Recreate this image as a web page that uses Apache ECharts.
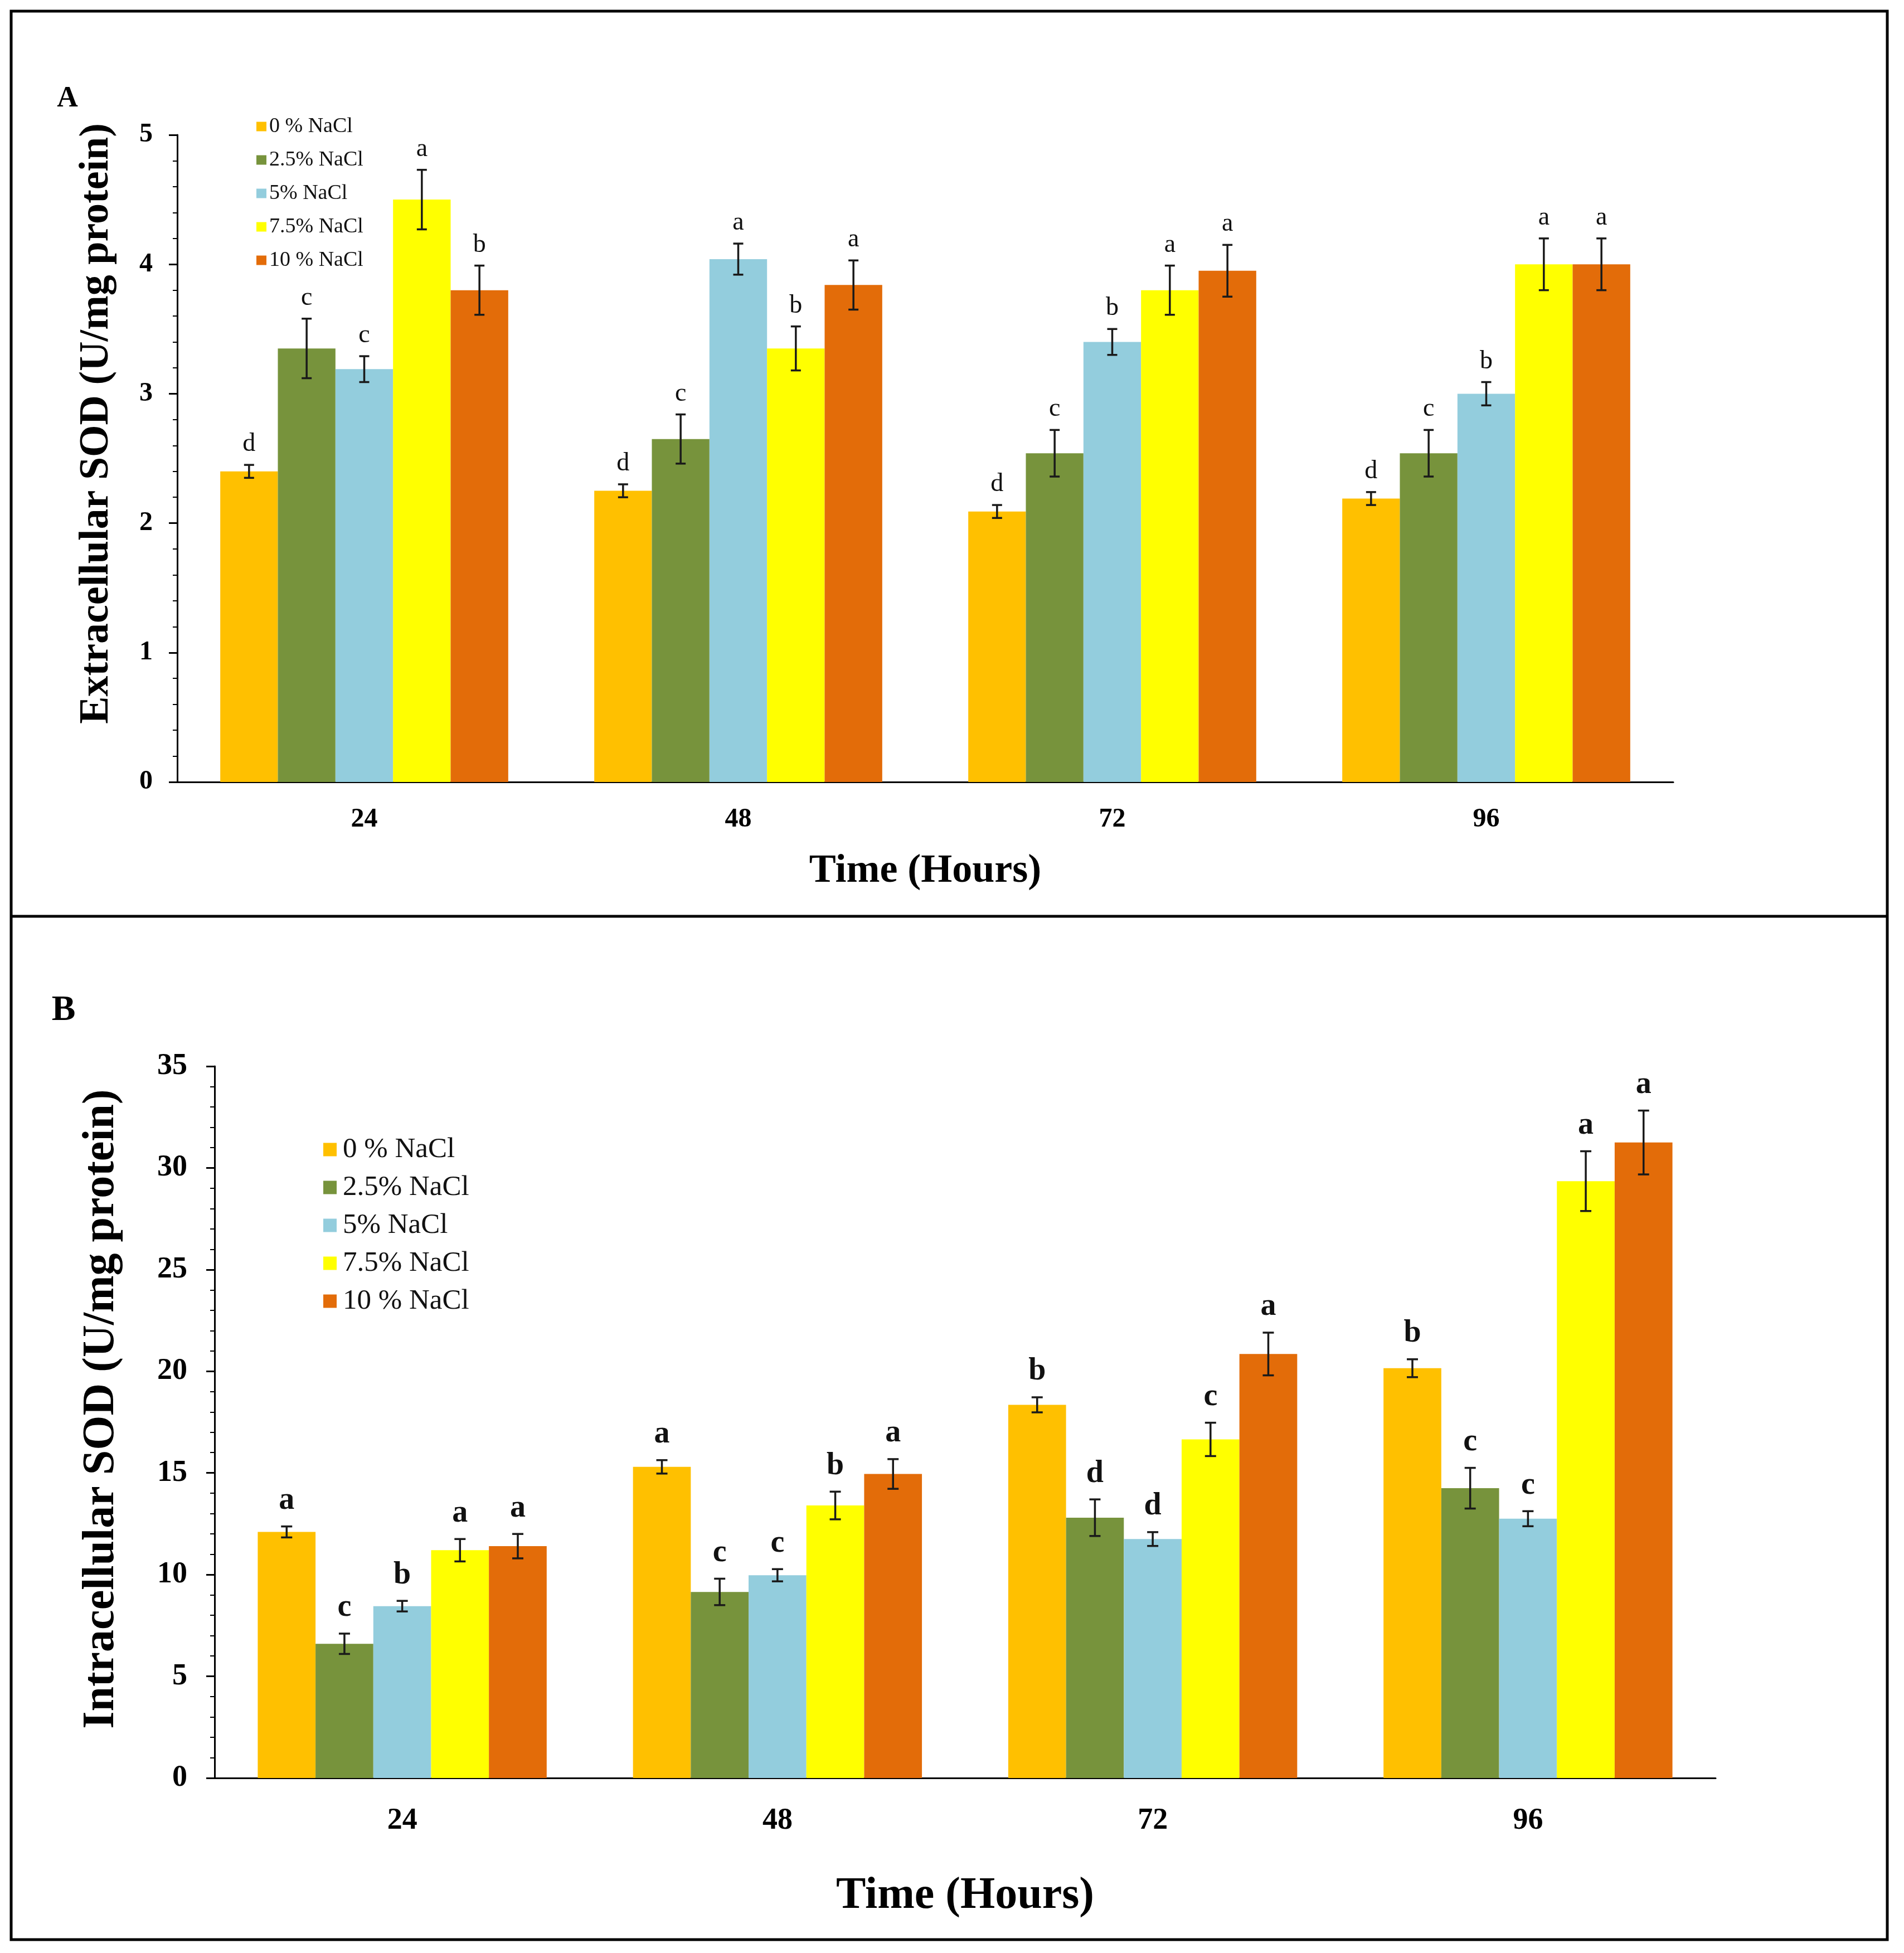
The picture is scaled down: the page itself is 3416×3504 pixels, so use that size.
<!DOCTYPE html>
<html>
<head>
<meta charset="utf-8">
<script src="https://cdn.jsdelivr.net/npm/echarts@6/dist/echarts.min.js"></script>
<style>
html,body{margin:0;padding:0;background:#fff;}
#chart{width:3416px;height:3504px;}
</style>
</head>
<body>
<div id="chart"></div>
<script>
// ---- Data ----
const categories = ['24', '48', '72', '96'];
const seriesNames = ['0 % NaCl', '2.5% NaCl', '5% NaCl', '7.5% NaCl', '10 % NaCl'];
const colors = ['#FFC000', '#77933C', '#93CDDD', '#FFFF00', '#E36C09'];

// Panel A: Extracellular SOD (per series, over 24/48/72/96 h)
const extValues = [
  [2.40, 2.25, 2.09, 2.19],
  [3.35, 2.65, 2.54, 2.54],
  [3.19, 4.04, 3.40, 3.00],
  [4.50, 3.35, 3.80, 4.00],
  [3.80, 3.84, 3.95, 4.00]
];
const extErrors = [
  [0.05, 0.05, 0.05, 0.05],
  [0.23, 0.19, 0.18, 0.18],
  [0.10, 0.12, 0.10, 0.09],
  [0.23, 0.17, 0.19, 0.20],
  [0.19, 0.19, 0.20, 0.20]
];
const extLetters = [
  ['d', 'd', 'd', 'd'],
  ['c', 'c', 'c', 'c'],
  ['c', 'a', 'b', 'b'],
  ['a', 'b', 'a', 'a'],
  ['b', 'a', 'a', 'a']
];

// Panel B: Intracellular SOD
const intValues = [
  [12.10, 15.30, 18.35, 20.15],
  [6.60, 9.15, 12.80, 14.25],
  [8.45, 9.97, 11.75, 12.75],
  [11.20, 13.40, 16.65, 29.35],
  [11.40, 14.95, 20.85, 31.25]
];
const intErrors = [
  [0.27, 0.33, 0.37, 0.44],
  [0.50, 0.65, 0.90, 1.00],
  [0.26, 0.30, 0.34, 0.37],
  [0.55, 0.68, 0.82, 1.47],
  [0.60, 0.73, 1.05, 1.57]
];
const intLetters = [
  ['a', 'a', 'b', 'b'],
  ['c', 'c', 'd', 'c'],
  ['b', 'c', 'd', 'c'],
  ['a', 'b', 'c', 'a'],
  ['a', 'a', 'a', 'a']
];

const extTicks = { min: 0, max: 5, interval: 1 };
const intTicks = { min: 0, max: 35, interval: 5 };

// ---- Build ----
const FONT = '"Liberation Serif", "Times New Roman", serif';
const GAP = 0.23;

function buildErr(values, errors, letters) {
  const data = [], lab = [];
  values.forEach((arr, si) => arr.forEach((v, ci) => {
    data.push([ci, v, errors[si][ci], si]);
    lab.push(letters[si][ci]);
  }));
  return { data, lab };
}
const extErr = buildErr(extValues, extErrors, extLetters);
const intErr = buildErr(intValues, intErrors, intLetters);

function makeRender(labels, opt) {
  return function (params, api) {
    const ci = api.value(0), v = api.value(1), e = api.value(2), si = api.value(3);
    const band = api.size([1, 0])[0];
    const group = band * (1 - GAP);
    const bw = group / seriesNames.length;
    const c = api.coord([ci, v]);
    const x = c[0] - group / 2 + bw * (si + 0.5);
    const yt = api.coord([ci, v + e])[1];
    const yb = api.coord([ci, v - e])[1];
    const cap = opt.cap;
    const ls = { stroke: '#1a1a1a', lineWidth: 3.5 };
    return {
      type: 'group',
      children: [
        { type: 'line', shape: { x1: x, y1: yt, x2: x, y2: yb }, style: ls },
        { type: 'line', shape: { x1: x - cap, y1: yt, x2: x + cap, y2: yt }, style: ls },
        { type: 'line', shape: { x1: x - cap, y1: yb, x2: x + cap, y2: yb }, style: ls },
        {
          type: 'text',
          style: {
            x: x, y: yt - opt.gap, text: labels[params.dataIndex],
            textAlign: 'center', textVerticalAlign: 'bottom',
            font: opt.font, fill: '#111'
          }
        }
      ]
    };
  };
}

const series = [];
seriesNames.forEach((n, si) => {
  series.push({
    name: n, type: 'bar', xAxisIndex: 0, yAxisIndex: 0,
    data: extValues[si], itemStyle: { color: colors[si] },
    barGap: '0%', barCategoryGap: '23%'
  });
});
seriesNames.forEach((n, si) => {
  series.push({
    name: n, type: 'bar', xAxisIndex: 1, yAxisIndex: 1,
    data: intValues[si], itemStyle: { color: colors[si] },
    barGap: '0%', barCategoryGap: '23%'
  });
});
series.push({
  type: 'custom', xAxisIndex: 0, yAxisIndex: 0, z: 5, clip: false,
  data: extErr.data, encode: { x: 0, y: 1 },
  renderItem: makeRender(extErr.lab, { cap: 9, gap: 14, font: 'normal 46px ' + FONT })
});
series.push({
  type: 'custom', xAxisIndex: 1, yAxisIndex: 1, z: 5, clip: false,
  data: intErr.data, encode: { x: 0, y: 1 },
  renderItem: makeRender(intErr.lab, { cap: 10, gap: 18, font: 'bold 56px ' + FONT })
});

function xAx(gi, fs, nameFs, nameGap) {
  return {
    type: 'category', gridIndex: gi, data: categories,
    axisLine: { show: true, lineStyle: { color: '#000', width: 3 } },
    axisTick: { show: false },
    axisLabel: { margin: gi === 0 ? 44 : 50, fontFamily: FONT, fontWeight: 'bold', fontSize: fs, color: '#000' },
    name: 'Time (Hours)', nameLocation: 'middle', nameGap: nameGap,
    nameTextStyle: { fontFamily: FONT, fontWeight: 'bold', fontSize: nameFs, color: '#000', verticalAlign: 'middle' }
  };
}
function yAx(gi, t, fs, margin) {
  return {
    type: 'value', gridIndex: gi, min: t.min, max: t.max, interval: t.interval,
    axisLine: { show: true, lineStyle: { color: '#000', width: 3 } },
    axisTick: { show: true, inside: false, length: 15, lineStyle: { color: '#000', width: 3 } },
    minorTick: { show: true, splitNumber: 5, length: 8, lineStyle: { color: '#000', width: 2 } },
    splitLine: { show: false },
    axisLabel: { margin: margin, fontFamily: FONT, fontWeight: 'bold', fontSize: fs, color: '#000' }
  };
}

const option = {
  backgroundColor: '#fff',
  animation: false,
  grid: [
    { left: 318, right: 414, top: 242, bottom: 2101 },
    { left: 385, right: 338, top: 1913, bottom: 314 }
  ],
  xAxis: [xAx(0, 48, 72, 160), xAx(1, 54, 80, 212)],
  yAxis: [yAx(0, extTicks, 48, 44), yAx(1, intTicks, 54, 49)],
  legend: [
    {
      orient: 'vertical', left: 455, top: 202, icon: 'rect',
      itemWidth: 18, itemHeight: 17, itemGap: 20,
      data: seriesNames,
      textStyle: { fontFamily: FONT, fontSize: 38, lineHeight: 40, color: '#111' }
    },
    {
      orient: 'vertical', left: 575, top: 2032, icon: 'rect',
      itemWidth: 24, itemHeight: 24, itemGap: 17,
      data: seriesNames,
      textStyle: { fontFamily: FONT, fontSize: 51, lineHeight: 50, color: '#111', padding: [0, 0, 0, 6] }
    }
  ],
  graphic: [
    { type: 'rect', shape: { x: 20, y: 20, width: 3366, height: 3460 }, style: { fill: 'none', stroke: '#000', lineWidth: 5 } },
    { type: 'line', shape: { x1: 20, y1: 1644, x2: 3386, y2: 1644 }, style: { stroke: '#000', lineWidth: 5 } },
    { type: 'text', x: 174, y: 760, rotation: Math.PI / 2,
      style: { text: 'Extracellular SOD (U/mg protein)', textAlign: 'center', textVerticalAlign: 'middle', font: 'bold 74px ' + FONT, fill: '#000' } },
    { type: 'text', x: 182, y: 2528, rotation: Math.PI / 2,
      style: { text: 'Intracellular SOD (U/mg protein)', textAlign: 'center', textVerticalAlign: 'middle', font: 'bold 80px ' + FONT, fill: '#000' } },
    { type: 'text', x: 121, y: 178,
      style: { text: 'A', textAlign: 'center', textVerticalAlign: 'middle', font: 'bold 52px ' + FONT, fill: '#000' } },
    { type: 'text', x: 114, y: 1813,
      style: { text: 'B', textAlign: 'center', textVerticalAlign: 'middle', font: 'bold 64px ' + FONT, fill: '#000' } }
  ],
  series: series
};

const chart = echarts.init(document.getElementById('chart'), null, { renderer: 'canvas' });
chart.setOption(option);
</script>
</body>
</html>
